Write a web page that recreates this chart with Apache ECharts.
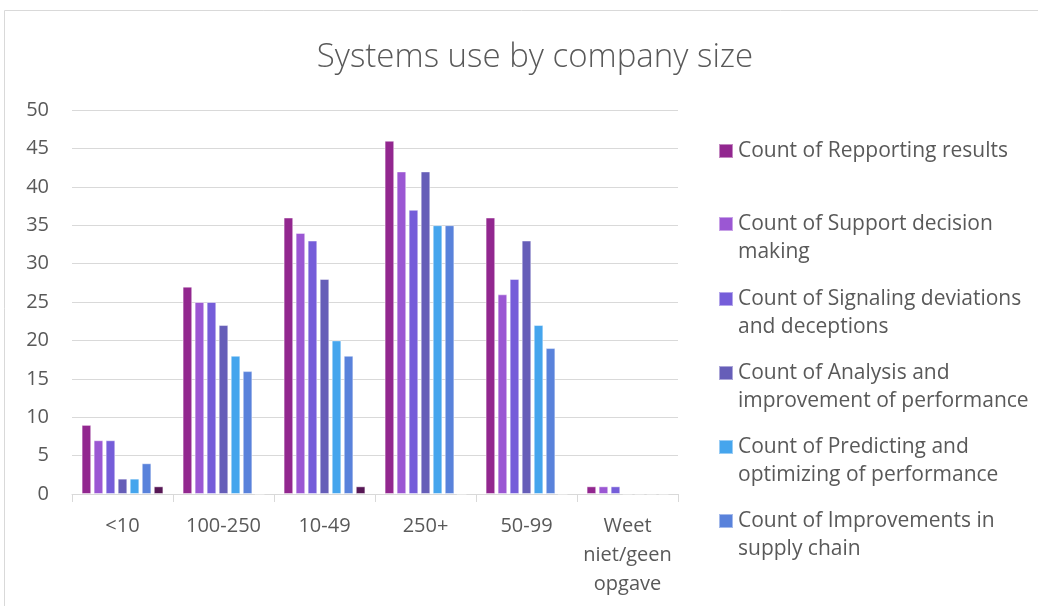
<!DOCTYPE html>
<html>
<head>
<meta charset="utf-8">
<style>
  html, body { margin: 0; padding: 0; background: #ffffff; }
  #chart { width: 1038px; height: 606px; }
</style>
<script src="https://cdn.jsdelivr.net/npm/echarts@6/dist/echarts.min.js"></script>
</head>
<body>
<div id="chart"></div>
<script>
// Company size groups on the x axis
const categories = ['<10', '100-250', '10-49', '250+', '50-99', 'Weet\nniet/geen\nopgave'];

// Counts per system use, one array per series
const reportingResults     = [9, 27, 36, 46, 36, 1];
const supportDecision      = [7, 25, 34, 42, 26, 1];
const signalingDeviations  = [7, 25, 33, 37, 28, 1];
const analysisImprovement  = [2, 22, 28, 42, 33, 0];
const predictingOptimizing = [2, 18, 20, 35, 22, 0];
const supplyChain          = [4, 16, 18, 35, 19, 0];
const otherUse             = [1, 0, 1, 0, 0, 0];

const seriesNames = [
  'Count of Repporting results',
  'Count of Support decision\nmaking',
  'Count of Signaling deviations\nand deceptions',
  'Count of Analysis and\nimprovement of performance',
  'Count of Predicting and\noptimizing of performance',
  'Count of Improvements in\nsupply chain',
  'Count of Other'
];
const seriesData = [
  reportingResults, supportDecision, signalingDeviations,
  analysisImprovement, predictingOptimizing, supplyChain, otherUse
];
const colors = ['#92278F', '#9B57D3', '#755DD9', '#665EB8', '#45A5ED', '#5982DB', '#571755'];

// Y axis ticks
const yMin = 0, yMax = 50, yStep = 5;

const textColor = '#595959';
const gridColor = '#d9d9d9';
const font = 'Open Sans';

// One legend component per entry; blank leading lines keep the swatch level
// with the first line of a wrapped name (legend text is centred on the swatch).
const legendFirstLineY = [151, 224, 299, 373, 447, 521];
const lineH = 28;
const legends = seriesNames.slice(0, 6).map((name, i) => {
  const lines = name.split('\n').length;
  return {
    data: [name],
    orient: 'vertical',
    left: 718,
    top: legendFirstLineY[i] - lineH / 2 - (lines - 1) * lineH,
    padding: 0,
    itemWidth: 14,
    itemHeight: 14,
    icon: 'rect',
    selectedMode: false,
    formatter: n => '\n'.repeat(lines - 1) + n,
    textStyle: {
      color: textColor,
      fontFamily: font,
      fontSize: 21,
      lineHeight: lineH
    }
  };
});

const chart = echarts.init(document.getElementById('chart'));
chart.setOption({
  animation: false,
  color: colors,
  title: {
    text: 'Systems use by company size',
    left: 530,
    textAlign: 'center',
    top: 36,
    textStyle: { color: textColor, fontFamily: font, fontSize: 33, fontWeight: 300 }
  },
  graphic: [{
    type: 'rect',
    shape: { x: 4.5, y: 10.5, width: 1100, height: 700 },
    style: { fill: 'none', stroke: '#d9d9d9', lineWidth: 1 },
    silent: true
  }],
  legend: legends,
  grid: { left: 72, right: 360, top: 110, bottom: 112, containLabel: false },
  xAxis: {
    type: 'category',
    data: categories,
    axisLine: { show: true, lineStyle: { color: gridColor, width: 1 } },
    axisTick: { show: true, length: 8, lineStyle: { color: gridColor } },
    axisLabel: {
      color: textColor, fontFamily: font, fontSize: 20, lineHeight: 29,
      margin: 18, interval: 0, verticalAlign: 'top'
    }
  },
  yAxis: {
    type: 'value',
    min: yMin, max: yMax, interval: yStep,
    axisLine: { show: false },
    axisTick: { show: false },
    splitLine: { lineStyle: { color: gridColor, width: 1 } },
    axisLabel: { color: textColor, fontFamily: font, fontSize: 20, margin: 23 }
  },
  series: seriesNames.map((name, i) => ({
    name: name,
    type: 'bar',
    data: seriesData[i],
    barGap: '25%',
    barCategoryGap: '19%',
    itemStyle: { color: colors[i], borderColor: 'rgba(255,255,255,0.45)', borderWidth: 1 }
  }))
});
</script>
</body>
</html>
